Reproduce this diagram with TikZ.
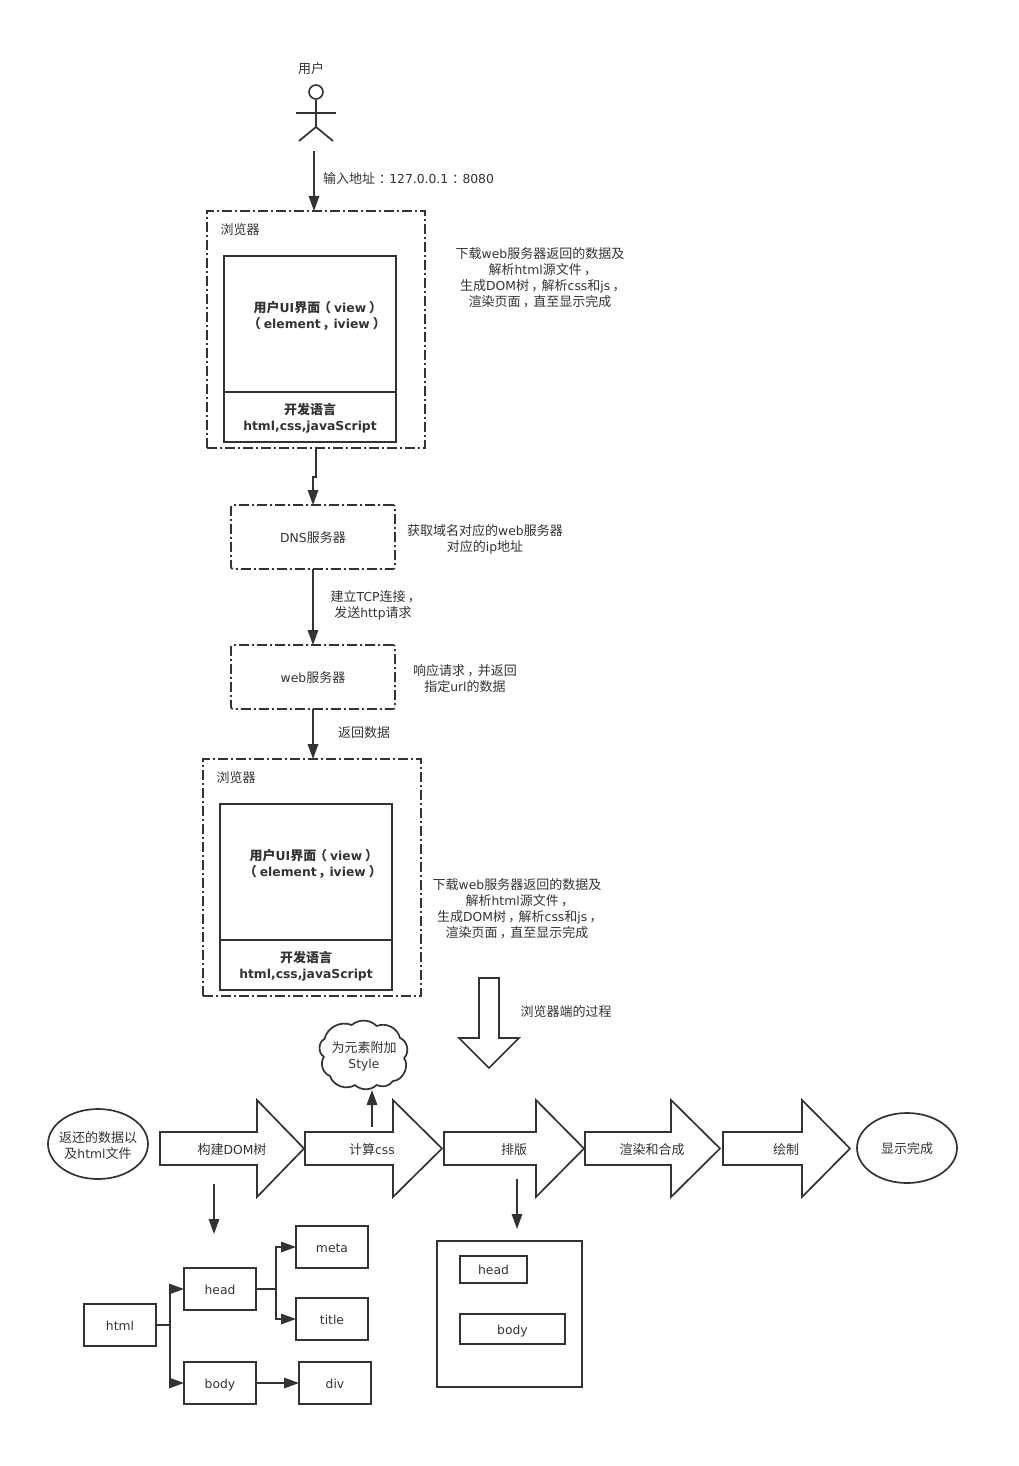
\documentclass[tikz,border=0pt]{standalone}
\usepackage{fontspec}
\setmainfont{Noto Sans CJK SC}
\newfontfamily\latfont[Scale=0.95]{DejaVu Sans}
\newfontfamily\palfont[RawFeature=+palt]{Noto Sans CJK SC}
\usetikzlibrary{arrows.meta,shapes.geometric}
\definecolor{ink}{HTML}{333333}
\newcommand{\la}[1]{{\latfont #1}}
\newcommand{\fc}{{\palfont\hspace{.24em}，\hspace{.24em}}}
\newcommand{\fk}{{\palfont\hspace{.3em}：\hspace{.3em}}}
\newcommand{\lp}{{\palfont\hspace{.28em}（\hspace{.28em}}}
\newcommand{\rp}{{\palfont\hspace{.28em}）\hspace{.28em}}}
\tikzset{
  basetxt/.style={inner sep=0pt,outer sep=0pt,align=center,text=ink,font=\fontsize{13}{16}\selectfont},
  txt/.style={basetxt,yshift=-1pt},
  boldtxt/.style={txt,font=\fontsize{13}{16}\selectfont\bfseries},
  solidbox/.style={draw=ink,line width=1.7pt,basetxt,fill=white,text height=12pt,text depth=2pt},
  dotbox/.style={draw=ink,line width=1.7pt,basetxt,dash pattern=on 10pt off 3pt on 2pt off 3pt,text height=12pt,text depth=2pt},
  dotround/.style={dotbox,rounded corners=2pt},
  arr/.style={draw=ink,line width=1.7pt,-{Triangle[length=15pt,width=10.5pt,fill=ink]}},
  ln/.style={draw=ink,line width=1.7pt},
  blockarrow/.style={draw=ink,line width=1.7pt,fill=white,line join=miter},
  oval/.style={ellipse,draw=ink,line width=1.7pt,inner sep=0pt,outer sep=0pt},
}
\newcommand{\rectnode}[7][]{%
  \pgfmathsetmacro{\rw}{#5-#3}\pgfmathsetmacro{\rh}{#6-#4}%
  \pgfmathsetmacro{\rx}{(#3+#5)/2}\pgfmathsetmacro{\ry}{(#4+#6)/2}%
  \node[#1,minimum width=\rw pt,minimum height=\rh pt] (#2) at (\rx,\ry) {#7};}
% x-left, x-base of head, x-tip
\newcommand{\blockright}[3]{\draw[blockarrow] (#1,1132)--(#2,1132)--(#2,1100)--(#3,1148.5)--(#2,1197)--(#2,1165)--(#1,1165)--cycle;}
\begin{document}
\begin{tikzpicture}[x=1pt,y=-1pt]
\useasboundingbox (0,0) rectangle (1019,1466);
\fill[white] (0,0) rectangle (1019,1466);

% actor
\node[txt] (userlabel) at (311,68) {用户};
\node[circle,draw=ink,line width=1.6pt,minimum size=14pt,inner sep=0pt] (head) at (316,92) {};
\coordinate (hip) at (316,127);
\coordinate (armL) at (296,113);
\coordinate (armR) at (336,113);
\coordinate (legL) at (299,141);
\coordinate (legR) at (333,141);
\draw[ln] (head.south) -- (hip);
\draw[ln] (armL) -- (armR);
\draw[ln] (legL) -- (hip) -- (legR);

% browser 1
\rectnode[dotbox]{browserA}{207}{211}{425}{448}{}
\node[txt] (browserAt) at (240,229) {浏览器};
\rectnode[solidbox]{uiA}{224}{256}{396}{392}{}
\rectnode[solidbox]{langA}{224}{392}{396}{442}{}
\node[boldtxt] (uiAt) at (315,315) {用户\la{UI}界面\lp\la{view}\rp\\\lp\la{element}\fc\la{iview}\rp};
\node[boldtxt] (langAt) at (310,417) {开发语言\\\la{html,css,javaScript}};
\node[txt] (descA) at (540,277) {下载\la{web}服务器返回的数据及\\解析\la{html}源文件\fc\\生成\la{DOM}树\fc 解析\la{css}和\la{js}\fc\\渲染页面\fc 直至显示完成};
\coordinate (actorout) at (314,151);
\draw[arr] (actorout) -- (actorout |- browserA.north);
\node[txt,anchor=west] (addr) at (323,178) {输入地址\fk\la{127.0.0.1}\fk\la{8080}};

% DNS
\rectnode[dotround]{dns}{231}{505}{395}{569}{\la{DNS}服务器}
\node[txt] (dnst) at (485,538.5) {获取域名对应的\la{web}服务器\\对应的\la{ip}地址};
\coordinate (jogA) at (316,448);
\coordinate (jogB) at (316,477);
\draw[arr] (jogA) -- (jogB) -- (313,477) -- (dns.north -| 313,0);

% web
\rectnode[dotround]{web}{231}{645}{395}{709}{\la{web}服务器}
\node[txt] (webt) at (465,677.5) {响应请求\fc 并返回\\指定\la{url}的数据};
\draw[arr] (dns.south) -- (web.north);
\node[txt] (tcp) at (373,604.5) {建立\la{TCP}连接\fc\\发送\la{http}请求};

% browser 2
\rectnode[dotbox]{browserB}{203}{759}{421}{996}{}
\node[txt] (browserBt) at (236,777) {浏览器};
\rectnode[solidbox]{uiB}{220}{804}{392}{940}{}
\rectnode[solidbox]{langB}{220}{940}{392}{990}{}
\node[boldtxt] (uiBt) at (311,863) {用户\la{UI}界面\lp\la{view}\rp\\\lp\la{element}\fc\la{iview}\rp};
\node[boldtxt] (langBt) at (306,965) {开发语言\\\la{html,css,javaScript}};
\node[txt] (descB) at (517,908) {下载\la{web}服务器返回的数据及\\解析\la{html}源文件\fc\\生成\la{DOM}树\fc 解析\la{css}和\la{js}\fc\\渲染页面\fc 直至显示完成};
\draw[arr] (web.south) -- (web.south |- browserB.north);
\node[txt] (ret) at (364,731.5) {返回数据};

% down block arrow
\draw[blockarrow] (479,978)--(499,978)--(499,1038)--(519,1038)--(489,1068)--(459,1038)--(479,1038)--cycle;
\node[txt] (proc) at (566,1010.5) {浏览器端的过程};

% flow
\node[oval,minimum width=100pt,minimum height=70pt] (src) at (98,1144) {};
\node[txt] (srct) at (98,1144.5) {返还的数据以\\及\la{html}文件};
\blockright{160}{257}{304}
\node[txt] (a1) at (232,1148.5) {构建\la{DOM}树};
\blockright{305}{393}{442}
\node[txt] (a2) at (372,1148.5) {计算\la{css}};
\blockright{444}{536}{584}
\node[txt] (a3) at (514,1148.5) {排版};
\blockright{585}{671}{720}
\node[txt] (a4) at (652,1148.5) {渲染和合成};
\blockright{723}{802}{850}
\node[txt] (a5) at (786,1148.5) {绘制};
\node[oval,minimum width=100pt,minimum height=70pt] (done) at (907,1148) {};
\node[txt] (donet) at (907,1148) {显示完成};

% cloud
\draw[ln,fill=white,line join=round]
  (324,1056.7) to[bend left=65] (324.5,1039)
  to[bend left=50] (351.7,1025)
  to[bend left=42] (376.7,1026)
  to[bend left=50] (400,1038)
  to[bend left=60] (404,1058)
  to[bend left=62] (393,1081)
  to[bend left=40] (376.7,1085)
  to[bend left=42] (355,1085)
  to[bend left=52] (330,1076)
  to[bend left=52] cycle;
\node[txt] (cloudA) at (364,1055.5) {为元素附加\\\la{Style}};
\coordinate (upfrom) at (372,1127);
\coordinate (cloudfoot) at (372,1090);
\draw[arr] (upfrom) -- (cloudfoot);

% tree
\rectnode[solidbox]{html}{84}{1304}{156}{1346}{\la{html}}
\rectnode[solidbox]{headn}{184}{1268}{256}{1310}{\la{head}}
\rectnode[solidbox]{bodyn}{184}{1362}{256}{1404}{\la{body}}
\rectnode[solidbox]{meta}{296}{1226}{368}{1268}{\la{meta}}
\rectnode[solidbox]{titlen}{296}{1298}{368}{1340}{\la{title}}
\rectnode[solidbox]{divn}{299}{1362}{371}{1404}{\la{div}}
\coordinate (treefrom) at (214,1184);
\draw[arr] (treefrom) -- (214,1234);
\draw[arr] (html.east) -- (170,1325) -- (170,1289) -- (headn.west);
\draw[arr] (html.east) -- (170,1325) -- (170,1383) -- (bodyn.west);
\draw[arr] (headn.east) -- (276,1289) -- (276,1247) -- (meta.west);
\draw[arr] (headn.east) -- (276,1289) -- (276,1319) -- (titlen.west);
\draw[arr] (bodyn.east) -- (divn.west);

% layout box
\rectnode[solidbox]{page}{437}{1241}{582}{1387}{}
\rectnode[solidbox]{pagehead}{460}{1256}{527}{1283}{\la{head}}
\rectnode[solidbox]{pagebody}{460}{1314}{565}{1344}{\la{body}}
\coordinate (layfrom) at (517,1179);
\draw[arr] (layfrom) -- (517,1229);
\end{tikzpicture}
\end{document}
